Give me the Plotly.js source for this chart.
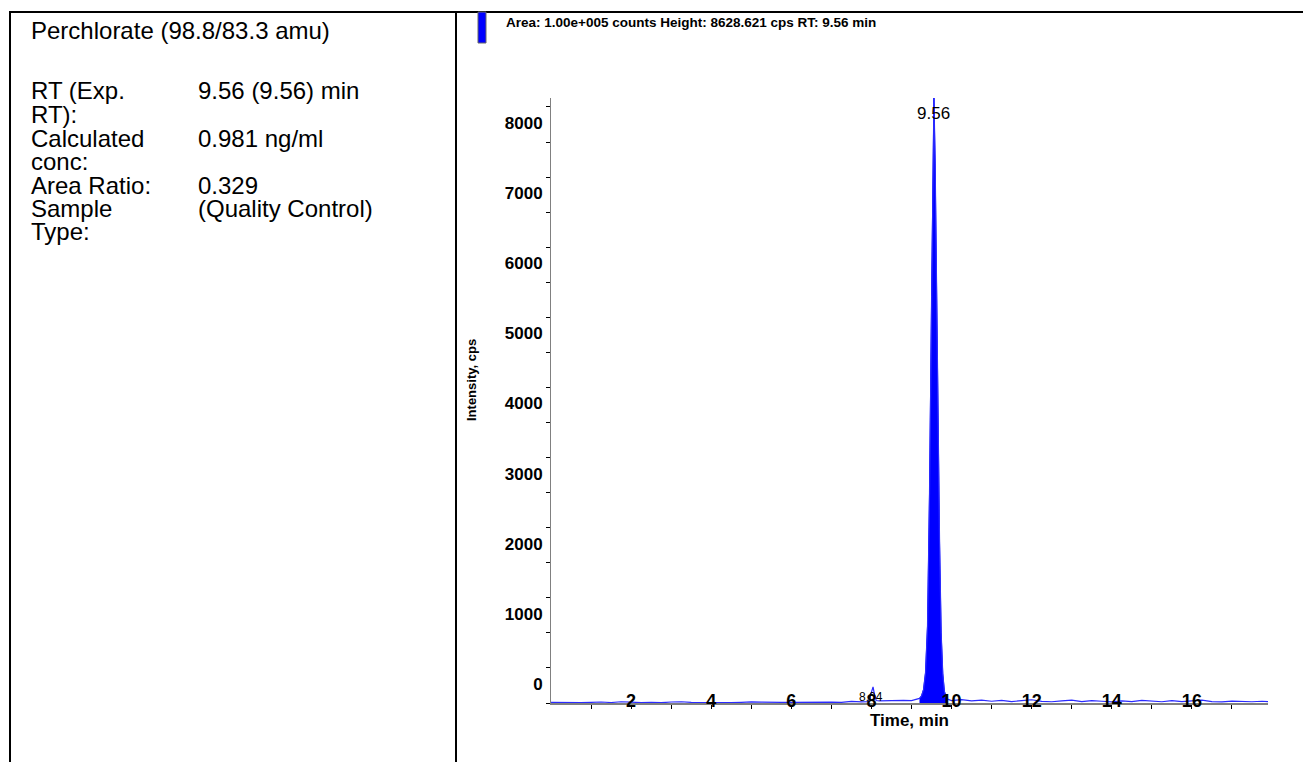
<!DOCTYPE html>
<html>
<head>
<meta charset="utf-8">
<script src="https://cdn.plot.ly/plotly-3.0.1.min.js"></script>
<style>
  html, body { margin: 0; padding: 0; background: #ffffff; }
  #chart { width: 1303px; height: 762px; }
</style>
</head>
<body>
<div id="chart"></div>
<script>
// ---- Data ----
const timeMin = [0.0,0.25,0.5,0.75,1.0,1.25,1.5,1.75,2.0,2.25,2.5,2.75,3.0,3.25,3.5,3.75,4.0,4.25,4.5,4.75,5.0,5.25,5.5,5.75,6.0,6.25,6.5,6.75,7.0,7.25,7.5,7.75,
  7.9,7.95,8.0,8.04,8.08,8.12,
  8.2,8.4,8.6,8.8,9.0,9.1,
  9.2,9.25,9.3,9.35,9.4,9.45,9.5,9.53,9.56,9.59,9.62,9.66,9.7,9.74,9.78,9.82,9.86,9.9,
  10.0,10.25,10.5,10.75,11.0,11.25,11.5,11.75,12.0,12.25,12.5,12.75,13.0,13.25,13.5,13.75,14.0,14.25,14.5,14.75,15.0,15.25,15.5,15.75,16.0,16.25,16.5,16.75,17.0,17.25,17.5,17.75,
  17.9];
const intensityCps = [8,4,10,6,9,14,7,18,12,5,9,4,14,18,10,6,11,7,4,9,16,12,6,10,8,11,15,20,13,9,22,16,
  18,60,150,230,110,35,
  30,34,28,38,34,45,
  65,100,190,430,1100,3000,5800,7500,8628,7700,6000,4000,2300,1000,420,170,90,55,
  35,48,30,42,25,38,20,34,46,24,18,30,42,20,34,25,16,30,20,38,25,18,34,20,30,40,20,15,28,20,18,25,
  20];

// integrated peak window (min)
const peakWindow = [9.15, 9.95];

// peak labels
const peakRT = [9.56, 8.04];
const peakLabels = ["9.56", "8.04"];
const peakHeights = [8628, 0];

// axis ticks
const xTickVals = [2,4,6,8,10,12,14,16];
const yTickVals = [0,1000,2000,3000,4000,5000,6000,7000,8000];

// info panel text
const infoTitle = "Perchlorate (98.8/83.3 amu)";
const infoLabels = ["RT (Exp.", "RT):", "Calculated", "conc:", "Area Ratio:", "Sample", "Type:"];
const infoValues = ["9.56 (9.56) min", "", "0.981 ng/ml", "", "0.329", "(Quality Control)", ""];
const headerText = "Area: 1.00e+005 counts Height: 8628.621 cps RT: 9.56 min";

// ---- Layout geometry helpers (pixel -> paper) ----
const W = 1303, H = 762;
const ML = 551, MR = 35, MT = 98, MB = 59;
const PW = W - ML - MR, PH = H - MT - MB;
const px2x = px => (px - ML) / PW;
const py2y = py => (H - MB - py) / PH;

const peakX = [], peakY = [];
timeMin.forEach((t, i) => {
  if (t >= peakWindow[0] && t <= peakWindow[1]) { peakX.push(t); peakY.push(intensityCps[i]); }
});

const FONT = "Arial, 'Liberation Sans', sans-serif";

const traces = [
  {
    x: peakX, y: peakY, type: 'scatter', mode: 'lines',
    fill: 'tozeroy', fillcolor: '#0000ff',
    line: { color: '#0000ff', width: 1 },
    hoverinfo: 'skip', showlegend: false
  },
  {
    x: timeMin, y: intensityCps, type: 'scatter', mode: 'lines',
    line: { color: '#2a2aff', width: 1.2 },
    showlegend: false
  }
];

const annotations = [];
// header
annotations.push({
  xref: 'paper', yref: 'paper', x: px2x(504), y: py2y(23),
  xanchor: 'left', yanchor: 'middle', showarrow: false,
  text: headerText, font: { family: FONT, size: 13.5, color: '#000', weight: 'bold' }
});
// y title
annotations.push({
  xref: 'paper', yref: 'paper', x: px2x(471), y: py2y(380),
  xanchor: 'center', yanchor: 'middle', showarrow: false, textangle: -90,
  text: "Intensity, cps", font: { family: FONT, size: 13, color: '#000', weight: 'bold' }
});
// peak labels
annotations.push({
  x: peakRT[0], y: peakHeights[0], xref: 'x', yref: 'y',
  xanchor: 'center', yanchor: 'middle', yshift: -15, showarrow: false,
  text: peakLabels[0], font: { family: FONT, size: 17, color: '#000' }
});
annotations.push({
  x: peakRT[1], y: peakHeights[1], xref: 'x', yref: 'y',
  xanchor: 'center', yanchor: 'middle', yshift: 6, xshift: -2, showarrow: false,
  text: peakLabels[1], font: { family: FONT, size: 12, color: '#000' }
});
// info panel
const INFO_SIZE = 24;
annotations.push({
  xref: 'paper', yref: 'paper', x: px2x(29), y: py2y(30),
  xanchor: 'left', yanchor: 'middle', showarrow: false,
  text: infoTitle, font: { family: FONT, size: INFO_SIZE, color: '#000' }
});
infoLabels.forEach((lab, i) => {
  const yy = 91 + i * 23.5;
  annotations.push({
    xref: 'paper', yref: 'paper', x: px2x(29), y: py2y(yy),
    xanchor: 'left', yanchor: 'middle', showarrow: false,
    text: lab, font: { family: FONT, size: INFO_SIZE, color: '#000' }
  });
  if (infoValues[i]) {
    annotations.push({
      xref: 'paper', yref: 'paper', x: px2x(196), y: py2y(yy),
      xanchor: 'left', yanchor: 'middle', showarrow: false,
      text: infoValues[i], font: { family: FONT, size: INFO_SIZE, color: '#000' }
    });
  }
});

const shapes = [
  { type: 'line', xref: 'paper', yref: 'paper', x0: px2x(9), x1: px2x(1303), y0: py2y(12), y1: py2y(12), line: { color: '#000', width: 2 } },
  { type: 'line', xref: 'paper', yref: 'paper', x0: px2x(10), x1: px2x(10), y0: py2y(11), y1: py2y(762), line: { color: '#000', width: 2 } },
  { type: 'line', xref: 'paper', yref: 'paper', x0: px2x(456), x1: px2x(456), y0: py2y(11), y1: py2y(762), line: { color: '#000', width: 2 } },
  { type: 'rect', xref: 'paper', yref: 'paper', x0: px2x(478), x1: px2x(486), y0: py2y(43), y1: py2y(12), fillcolor: '#0000ff', line: { color: '#666', width: 1 } }
];

const layout = {
  width: W, height: H,
  margin: { l: ML, r: MR, t: MT, b: MB, pad: 0 },
  paper_bgcolor: '#fff', plot_bgcolor: '#fff',
  showlegend: false,
  xaxis: {
    range: [0, 17.9], showgrid: false, zeroline: false,
    showline: true, linecolor: '#808080', linewidth: 2,
    tickmode: 'array', tickvals: xTickVals,
    ticks: 'outside', ticklen: 4, tickcolor: '#000', tickwidth: 1,
    ticklabelstandoff: -24,
    tickfont: { family: FONT, size: 18, color: '#000', weight: 'bold' },
    minor: { tickmode: 'linear', tick0: 1, dtick: 2, ticks: 'outside', ticklen: 4, tickcolor: '#000' },
    title: { text: 'Time, min', standoff: 4, font: { family: FONT, size: 17, color: '#000', weight: 'bold' } },
    automargin: false
  },
  yaxis: {
    range: [0, 8628], showgrid: false, zeroline: false,
    showline: true, linecolor: '#808080', linewidth: 1,
    tickmode: 'array', tickvals: yTickVals, tickformat: 'd',
    ticks: 'outside', ticklen: 4, tickcolor: '#000', tickwidth: 1,
    ticklabelshift: -19,
    tickfont: { family: FONT, size: 17, color: '#000', weight: 'bold' },
    minor: { tickmode: 'linear', tick0: 500, dtick: 1000, ticks: 'outside', ticklen: 4, tickcolor: '#000' },
    automargin: false
  },
  annotations: annotations,
  shapes: shapes
};

Plotly.newPlot('chart', traces, layout, { displayModeBar: false, staticPlot: true });
</script>
</body>
</html>
